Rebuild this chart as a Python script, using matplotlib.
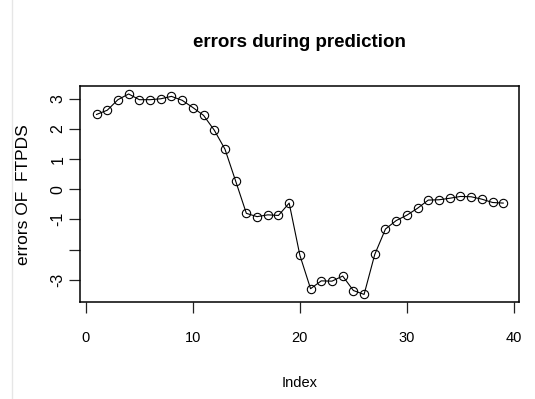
import matplotlib
matplotlib.use('Agg')
import matplotlib.pyplot as plt
from matplotlib.lines import Line2D

# errors of FTPDS, one per index
idx = list(range(1, 40))
errs = [2.48, 2.62, 2.97, 3.16, 2.97, 2.97, 3.00, 3.08, 2.95, 2.71,
        2.45, 1.96, 1.33, 0.27, -0.80, -0.91, -0.85, -0.87, -0.46, -2.19,
        -3.30, -3.04, -3.05, -2.88, -3.36, -3.49, -2.16, -1.32, -1.04, -0.86,
        -0.63, -0.36, -0.35, -0.30, -0.24, -0.25, -0.33, -0.44, -0.46]
xticks = [0, 10, 20, 30, 40]
yticks = [-3, -2, -1, 0, 1, 2, 3]
ylabels = ['-3', '', '-1', '0', '1', '2', '3']  # R drops the -2 label

plt.rcParams['font.family'] = ['Liberation Sans', 'DejaVu Sans']

fig = plt.figure(figsize=(5.35, 3.99), dpi=100)
ax = fig.add_axes([0.150, 0.242, 0.821, 0.5426])

ax.plot(idx, errs, color='black', lw=0.8, marker='o', ms=6,
        mfc='none', mec='black', mew=0.8)

# R style 4% range extension
xr = max(idx) - min(idx)
ax.set_xlim(min(idx) - 0.04 * xr, max(idx) + 0.04 * xr)
yr = max(errs) - min(errs)
ax.set_ylim(min(errs) - 0.04 * yr, max(errs) + 0.04 * yr)

ax.set_xticks(xticks)
ax.set_xticklabels([str(t) for t in xticks])
ax.set_yticks(yticks)
ax.set_yticklabels(ylabels)
ax.tick_params(axis='both', length=8, width=0.9, color='#222222')
ax.tick_params(axis='x', pad=12.5, labelsize=10.5)
ax.tick_params(axis='y', pad=2.5, labelsize=11.5)
plt.setp(ax.get_yticklabels(), rotation=90, va='center')

for s in ax.spines.values():
    s.set_linewidth(1.1)

ax.text(-0.130, 0.5, 'errors OF  FTPDS', transform=ax.transAxes,
        rotation=90, ha='center', va='center', fontsize=12.5)
ax.text(0.5, -0.372, 'Index', transform=ax.transAxes,
        ha='center', va='center', fontsize=10.5)
ax.text(0.5, 1.199, 'errors during prediction', transform=ax.transAxes,
        ha='center', va='center', fontsize=13.5, fontweight='bold')

# faint border line at the left edge of the screenshot
fig.add_artist(Line2D([11.5 / 535, 11.5 / 535], [0, 1], color='#e6e6e6', lw=1))

fig.savefig('out.png', dpi=100)
